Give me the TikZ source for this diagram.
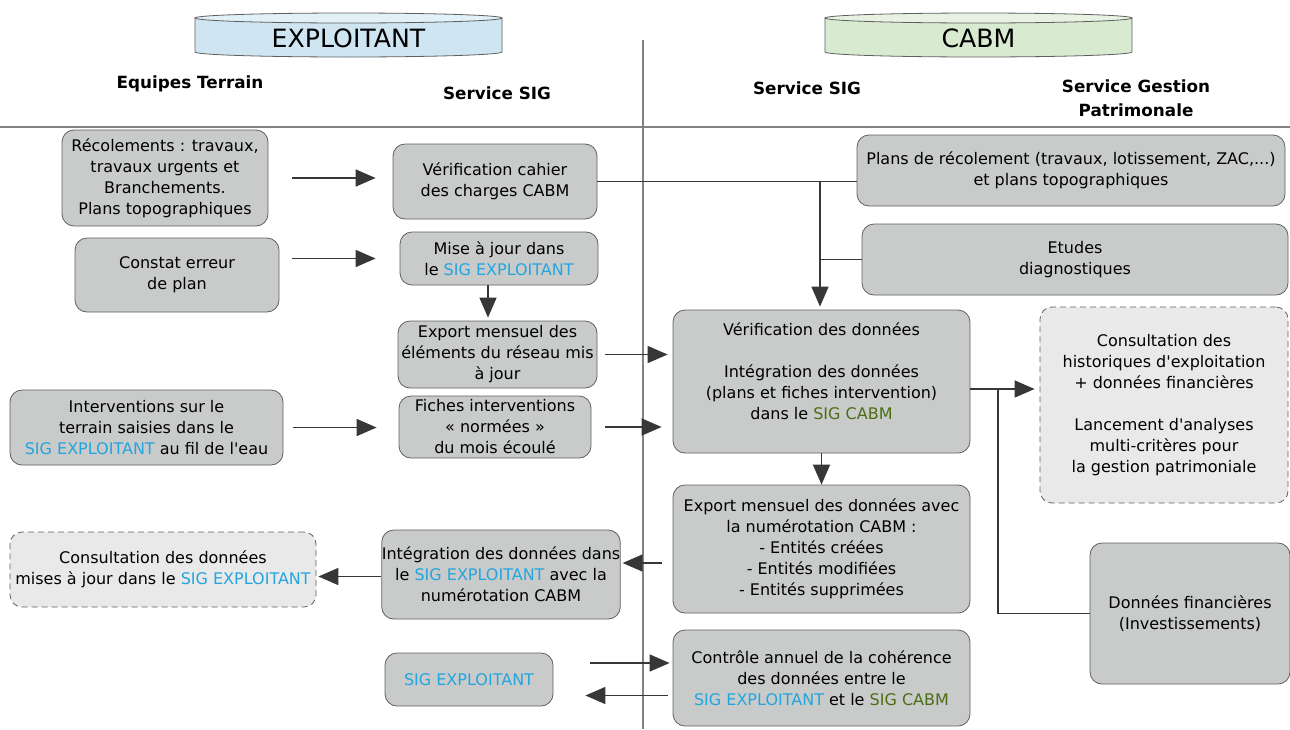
\documentclass[tikz,border=0pt]{standalone}
\usepackage{fontspec}
\setmainfont{DejaVu Sans}
\usetikzlibrary{arrows.meta}
\definecolor{boxgray}{RGB}{201,203,203}
\definecolor{dashfill}{RGB}{233,233,233}
\definecolor{bordergray}{RGB}{95,95,95}
\definecolor{linegray}{RGB}{55,55,55}
\definecolor{sepgray}{RGB}{130,130,130}
\definecolor{sigblue}{RGB}{35,165,222}
\definecolor{siggreen}{RGB}{75,110,20}
\definecolor{cylblue}{RGB}{207,230,242}
\definecolor{cylgreen}{RGB}{216,234,208}
\newcommand{\sigexp}{\textcolor{sigblue}{SIG EXPLOITANT}}
\newcommand{\sigcabm}{\textcolor{siggreen}{SIG CABM}}
\begin{document}
\begin{tikzpicture}[x=0.5pt,y=-0.5pt,
	box/.style={draw=bordergray, fill=boxgray, rounded corners=6pt, align=center, inner sep=0pt, font=\fontsize{8}{10.5}\selectfont},
	dbox/.style={box, fill=dashfill, densely dashed},
	head/.style={font=\fontsize{8.4}{12}\selectfont\bfseries, align=center},
	arr/.style={draw=linegray, line width=0.8pt, -{Triangle[length=10pt,width=8.5pt]}},
	lnk/.style={draw=linegray, line width=0.8pt}]
	\useasboundingbox (0,0) rectangle (1290,729);
	\draw[sepgray, line width=0.6pt] (0,127) -- (1290,127);
	\draw[sepgray, line width=0.6pt] (643,40) -- (643,729);
	\draw[bordergray, fill=cylblue] (195,18) -- (195,52) arc[start angle=180, end angle=360, x radius=76.75pt, y radius=2.5pt] -- (502,18) -- cycle;
	\draw[bordergray, fill=cylblue!60] (348.5,18) ellipse[x radius=76.75pt, y radius=2.5pt];
	\node[font=\fontsize{12.6}{15}\selectfont] (texpl) at (348.5,38) {EXPLOITANT};
	\draw[bordergray, fill=cylgreen] (825,18) -- (825,52) arc[start angle=180, end angle=360, x radius=76.75pt, y radius=2.5pt] -- (1132,18) -- cycle;
	\draw[bordergray, fill=cylgreen!60] (978.5,18) ellipse[x radius=76.75pt, y radius=2.5pt];
	\node[font=\fontsize{12.6}{15}\selectfont] (tcabm) at (978.5,38) {CABM};
	\node[head] (hequip) at (190,84) {Equipes Terrain};
	\node[head] (hsigex) at (497,93) {Service SIG};
	\node[head] (hsigcb) at (807,88) {Service SIG};
	\node[head] (hgest) at (1136,98) {Service Gestion\\Patrimonale};
	\node[box, minimum width=103pt, minimum height=48pt] (recol) at (165,178) {Récolements : travaux,\\travaux urgents et\\Branchements.\\Plans topographiques};
	\node[box, minimum width=102pt, minimum height=37pt] (constat) at (177,275) {Constat erreur\\de plan};
	\node[box, minimum width=102pt, minimum height=37.5pt] (verifcahier) at (495,181.5) {Vérification cahier\\des charges CABM};
	\node[box, minimum width=99pt, minimum height=26.5pt] (maj) at (499,258.5) {Mise à jour dans\\le \sigexp};
	\node[box, minimum width=99.5pt, minimum height=33.5pt] (exportelem) at (497.5,354.5) {Export mensuel des\\éléments du réseau mis\\à jour};
	\node[box, minimum width=136.5pt, minimum height=37.5pt] (interv) at (146.5,427.5) {Interventions sur le\\terrain saisies dans le\\\sigexp{} au fil de l\textquotesingle eau};
	\node[box, minimum width=96pt, minimum height=31pt] (fiches) at (495,427) {Fiches interventions\\« normées »\\du mois écoulé};
	\node[box, minimum width=214pt, minimum height=35.5pt] (plansrecol) at (1071,170.5) {Plans de récolement (travaux, lotissement, ZAC,...)\\et plans topographiques};
	\node[box, minimum width=213pt, minimum height=35.5pt] (etudes) at (1075,259.5) {Etudes\\diagnostiques};
	\node[box, minimum width=148.5pt, minimum height=71.5pt] (verifdon) at (821.5,381.5) {Vérification des données\\[10.5pt]Intégration des données\\(plans et fiches intervention)\\dans le \sigcabm\\ \mbox{}};
	\node[dbox, minimum width=124pt, minimum height=98pt] (consulthist) at (1164,405) {Consultation des\\historiques d\textquotesingle exploitation\\+ données financières\\[10.5pt]Lancement d\textquotesingle analyses\\multi-critères pour\\la gestion patrimoniale};
	\node[box, minimum width=148.5pt, minimum height=64pt] (exportdon) at (821.5,549) {Export mensuel des données avec\\la numérotation CABM :\\- Entités créées\\- Entités modifiées\\- Entités supprimées};
	\node[box, minimum width=100pt, minimum height=70.5pt] (donfin) at (1190,613.5) {Données financières\\(Investissements)};
	\node[box, minimum width=119pt, minimum height=44.5pt] (integr) at (501,574.5) {Intégration des données dans\\le \sigexp{} avec la\\numérotation CABM};
	\node[dbox, minimum width=153pt, minimum height=37.5pt] (consultdon) at (163,569.5) {Consultation des données\\mises à jour dans le \sigexp};
	\node[box, minimum width=84pt, minimum height=26.5pt] (sigexpl) at (469,679.5) {\sigexp};
	\node[box, minimum width=148.5pt, minimum height=48pt] (controle) at (821.5,678) {Contrôle annuel de la cohérence\\des données entre le\\\sigexp{} et le \sigcabm};
	\coordinate (jn) at (820,181.5);
	\coordinate (jf) at (998,389);
	\draw[arr, shorten <=12pt, shorten >=8.5pt] (recol.east) -- (recol.east -| verifcahier.west);
	\draw[arr, shorten <=6.5pt, shorten >=12pt] (constat.east |- maj.west) -- (maj.west);
	\draw[arr, shorten >=1.5pt] ([xshift=-5.5pt]maj.south) -- ([xshift=-5.5pt]maj.south |- exportelem.north);
	\draw[arr, shorten <=4pt, shorten >=2.5pt] (exportelem.east) -- (exportelem.east -| verifdon.west);
	\draw[arr, shorten <=5pt, shorten >=11pt] (interv.east) -- (interv.east -| fiches.west);
	\draw[arr, shorten <=7pt, shorten >=5.5pt] (fiches.east) -- (fiches.east -| verifdon.west);
	\draw[lnk] (verifcahier.east) -- (verifcahier.east -| plansrecol.west);
	\draw[lnk] (etudes.west) -- (etudes.west -| jn);
	\draw[arr, shorten >=1.5pt] (jn) -- (jn |- verifdon.north);
	\draw[arr, shorten >=2.5pt] (verifdon.east |- jf) -- (consulthist.west |- jf);
	\draw[lnk] (jf) |- (donfin.west);
	\draw[arr] (verifdon.south) -- (verifdon.south |- exportdon.north);
	\draw[arr, shorten <=5.5pt, shorten >=1pt] ([yshift=-7pt]exportdon.west) -- ([yshift=-7pt]exportdon.west -| integr.east);
	\draw[arr, shorten >=1pt] ([yshift=-1pt]integr.west) -- ([yshift=-1pt]integr.west -| consultdon.east);
	\draw[arr, shorten <=18.5pt, shorten >=1.5pt] ([yshift=8.25pt]sigexpl.east) -- ([yshift=8.25pt]sigexpl.east -| controle.west);
	\draw[arr, shorten <=2.5pt, shorten >=16pt] ([yshift=-8.75pt]controle.west) -- ([yshift=-8.75pt]controle.west -| sigexpl.east);
\end{tikzpicture}
\end{document}
